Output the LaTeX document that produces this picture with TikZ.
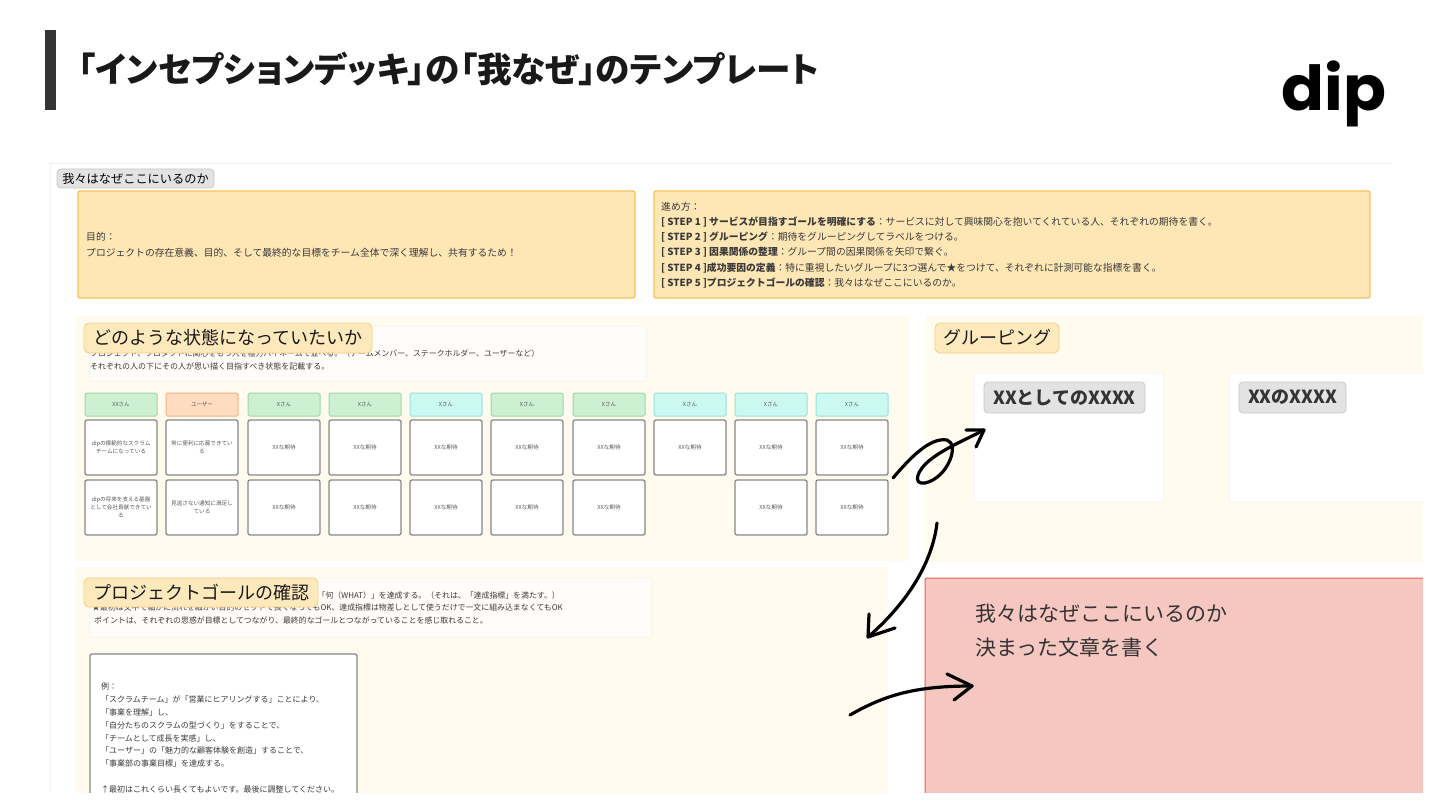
\documentclass[tikz,border=0pt]{standalone}
\usepackage{fontspec}
\setmainfont{Noto Sans CJK JP}
\newfontfamily\ttlfont[RawFeature=+palt]{Noto Sans CJK JP}
\newfontfamily\logofont{Poppins}
\definecolor{ink}{HTML}{3A3A3A}
\definecolor{orF}{HTML}{FEE6B5}\definecolor{orD}{HTML}{F6C35C}
\definecolor{panel}{HTML}{FFFBEF}
\definecolor{lblF}{HTML}{FDE9BC}\definecolor{lblD}{HTML}{F2CF85}
\definecolor{grnF}{HTML}{CDEFD2}\definecolor{grnD}{HTML}{9AD9A4}
\definecolor{ornF}{HTML}{FDDCC0}\definecolor{ornD}{HTML}{F2B27C}
\definecolor{cynF}{HTML}{CCF8F2}\definecolor{cynD}{HTML}{98E0D8}
\definecolor{redF}{HTML}{F6C6C1}\definecolor{redD}{HTML}{E0685A}
\definecolor{cardD}{HTML}{888888}
\tikzset{
 x=1pt,y=-1pt,
 box/.style={anchor=north west,inner sep=0pt,outer sep=0pt,rounded corners=2pt},
 orbox/.style={box,fill=orF,draw=orD,line width=1.4pt,text=ink},
 panelbox/.style={box,fill=panel},
 notebox/.style={box,fill=white!60!panel,draw=black!5,line width=.6pt},
 lbl/.style={box,fill=lblF,draw=lblD,line width=.8pt,rounded corners=5pt,font=\fontsize{18}{22}\selectfont,text=black!90},
 hdr/.style={box,rounded corners=1.5pt,line width=1pt,minimum width=72pt,minimum height=23pt,align=center,font=\fontsize{5.5}{7}\selectfont,text=black!65},
 card/.style={box,fill=white,draw=cardD,line width=1.3pt,minimum width=72pt,minimum height=55pt,align=center,font=\fontsize{5.6}{8.2}\selectfont,text=black!65},
 txt/.style={anchor=west,inner sep=0pt,text=ink},
 pen/.style={line width=3.2pt,line cap=round,line join=round,black},
 tagg/.style={box,fill=black!11,draw=black!22,line width=.8pt,rounded corners=4pt},
}
\newcommand{\cardhead}[4]{\node[hdr,fill=#2F,draw=#2D] (h#1) at (#3,393) {#4};}
\begin{document}
\begin{tikzpicture}
\useasboundingbox (0,0) rectangle (1440,810);
\fill[white] (0,0) rectangle (1440,810);
% title
\fill[ink!90!black] (45,30) rectangle (56,110);
\node[anchor=west,inner sep=0pt,font=\ttlfont\bfseries\fontsize{34.6}{38}\selectfont,text=black!90] (title) at (78,69) {「インセプションデッキ」の「我なぜ」のテンプレート};
\node[anchor=base,inner sep=0pt,xscale=1.02,font=\logofont\bfseries\fontsize{62}{62}\selectfont] (logo) at (1334,111) {dip};
% screenshot frame
\draw[black!6,line width=1.2pt] (48,163.5) -- (1392,163.5);
\draw[black!5,line width=.7pt] (50,164) -- (50,792);
\begin{scope}
\clip (0,0) rectangle (1423,792);
\node[tagg,minimum width=157pt,minimum height=19pt,font=\fontsize{12.2}{14}\selectfont] (tag) at (57,169) {我々はなぜここにいるのか};
\node[orbox,minimum width=557pt,minimum height=107pt] (goal) at (78,191) {};
\node[txt,font=\fontsize{9.8}{16}\selectfont,align=left] (goalt) at (86,245) {目的：\\プロジェクトの存在意義、目的、そして最終的な目標をチーム全体で深く理解し、共有するため！};
\node[orbox,minimum width=716pt,minimum height=107pt] (how) at (654,191) {};
\node[txt,font=\fontsize{9.8}{15.2}\selectfont,align=left] (howt) at (661,245) {進め方：\\
\textbf{[ STEP 1 ] サービスが目指すゴールを明確にする}：サービスに対して興味関心を抱いてくれている人、それぞれの期待を書く。\\
\textbf{[ STEP 2 ] グルーピング}：期待をグルーピングしてラベルをつける。\\
\textbf{[ STEP 3 ] 因果関係の整理}：グループ間の因果関係を矢印で繋ぐ。\\
\textbf{[ STEP 4 ]成功要因の定義}：特に重視したいグループに3つ選んで★をつけて、それぞれに計測可能な指標を書く。\\
\textbf{[ STEP 5 ]プロジェクトゴールの確認}：我々はなぜここにいるのか。};
% panels
\node[panelbox,minimum width=834pt,minimum height=245pt] (pa) at (75,316) {};
\node[panelbox,minimum width=500pt,minimum height=246pt] (pb) at (926,316) {};
\node[panelbox,minimum width=813pt,minimum height=240pt] (pc) at (75,567) {};
\node[box,fill=redF,draw=redD,line width=1pt,minimum width=510pt,minimum height=240pt] (pr) at (925,578) {};
% note A
\node[notebox,minimum width=556pt,minimum height=55pt] (na) at (90,326) {};
\node[txt,font=\fontsize{7.9}{10}\selectfont] (nat1) at (90,353) {プロジェクト、プロダクトに関心をもつ人を極力バイネームで並べる。（チームメンバー、ステークホルダー、ユーザーなど）};
\node[txt,font=\fontsize{8}{10}\selectfont] (nat2) at (90,366) {それぞれの人の下にその人が思い描く目指すべき状態を記載する。};
\node[lbl,minimum width=288pt,minimum height=30pt] (la) at (84,323) {どのような状態になっていたいか};
% cards
\cardhead{1}{grn}{85}{XXさん}
\cardhead{2}{orn}{166}{ユーザー}
\cardhead{3}{grn}{248}{Xさん}
\cardhead{4}{grn}{329}{Xさん}
\cardhead{5}{cyn}{410}{Xさん}
\cardhead{6}{grn}{491}{Xさん}
\cardhead{7}{grn}{573}{Xさん}
\cardhead{8}{cyn}{654}{Xさん}
\cardhead{9}{cyn}{735}{Xさん}
\cardhead{10}{cyn}{816}{Xさん}
\node[card] (c11) at (85,420) {dipの模範的なスクラム\\チームになっている};
\node[card] (c12) at (166,420) {常に便利に応募できてい\\る};
\foreach \n/\cx in {3/248,4/329,5/410,6/491,7/573,8/654,9/735,10/816}
  \node[card] (c\n a) at (\cx,420) {XXな期待};
\node[card] (c21) at (85,480) {dipの将来を支える基盤\\として会社貢献できてい\\る};
\node[card] (c22) at (166,480) {見逃さない通知に満足し\\ている};
\foreach \n/\cx in {3/248,4/329,5/410,6/491,7/573,9/735,10/816}
  \node[card] (c\n b) at (\cx,480) {XXな期待};
% grouping
\node[lbl,minimum width=124pt,minimum height=30pt] (lb) at (935,323) {グルーピング};
\node[box,fill=white,draw=black!5,line width=.7pt,minimum width=190pt,minimum height=129pt] (g1) at (974,373) {};
\node[box,fill=white,draw=black!5,line width=.7pt,minimum width=210pt,minimum height=129pt] (g2) at (1229,373) {};
\node[tagg,minimum width=161pt,minimum height=31pt,font=\bfseries\fontsize{18}{20}\selectfont,text=black!80] (g1t) at (984,382) {XXとしてのXXXX};
\node[tagg,minimum width=107pt,minimum height=31pt,font=\bfseries\fontsize{18}{20}\selectfont,text=black!80] (g2t) at (1239,382) {XXのXXXX};
% note C
\node[notebox,minimum width=562pt,minimum height=59pt] (nc) at (90,578) {};
\node[anchor=east,inner sep=0pt,text=ink,font=\fontsize{7.9}{10}\selectfont] (nc1) at (560,595) {「何（WHAT）」を達成する。（それは、「達成指標」を満たす。）};
\node[anchor=east,inner sep=0pt,text=ink,font=\fontsize{7.9}{10}\selectfont] (nc2) at (563,607.5) {★最初は文中で細かに流れを細かい目的のセットで長くなってもOK、達成指標は物差しとして使うだけで一文に組み込まなくてもOK};
\node[txt,font=\fontsize{7.9}{10}\selectfont] (nc3) at (94,620) {ポイントは、それぞれの思惑が目標としてつながり、最終的なゴールとつながっていることを感じ取れること。};
\node[lbl,minimum width=234pt,minimum height=29pt] (lc) at (84,578) {プロジェクトゴールの確認};
% example
\node[box,fill=white,draw=cardD,line width=1.3pt,minimum width=267pt,minimum height=170pt] (ex) at (90,654) {};
\node[anchor=north west,inner sep=0pt,text=ink,align=left,font=\fontsize{8}{12.8}\selectfont] (ext) at (101,683) {例：\\「スクラムチーム」が「営業にヒアリングする」ことにより、\\「事業を理解」し、\\「自分たちのスクラムの型づくり」をすることで、\\「チームとして成長を実感」し、\\「ユーザー」の「魅力的な顧客体験を創造」することで、\\「事業部の事業目標」を達成する。\\[12.8pt]↑最初はこれくらい長くてもよいです。最後に調整してください。};
% red
\node[anchor=north west,inner sep=0pt,text=black!80,align=left,font=\fontsize{21}{33.5}\selectfont] (rt) at (975,604) {我々はなぜここにいるのか\\決まった文章を書く};
\end{scope}
% arrows
\coordinate (a1s) at (893,478);
\coordinate (a1e) at (984,430);
\coordinate (a2s) at (937,523);
\coordinate (a2e) at (868,637);
\coordinate (a3s) at (850,715);
\coordinate (a3e) at (972,686);
\draw[pen] (a1s) .. controls (910,458) and (930,437) .. (947,440)
  .. controls (960,444) and (948,478) .. (925,483)
  .. controls (912,485) and (917,470) .. (930,460)
  .. controls (945,448) and (965,440) .. (a1e);
\draw[pen] (966,430) -- (a1e) -- (976,447);
\draw[pen] (a2s) .. controls (932,565) and (905,605) .. (a2e);
\draw[pen] (869,614) -- (a2e) -- (895,628);
\draw[pen] (a3s) .. controls (885,695) and (915,686) .. (a3e);
\draw[pen] (947,674) -- (a3e) -- (954,700);
\end{tikzpicture}
\end{document}
